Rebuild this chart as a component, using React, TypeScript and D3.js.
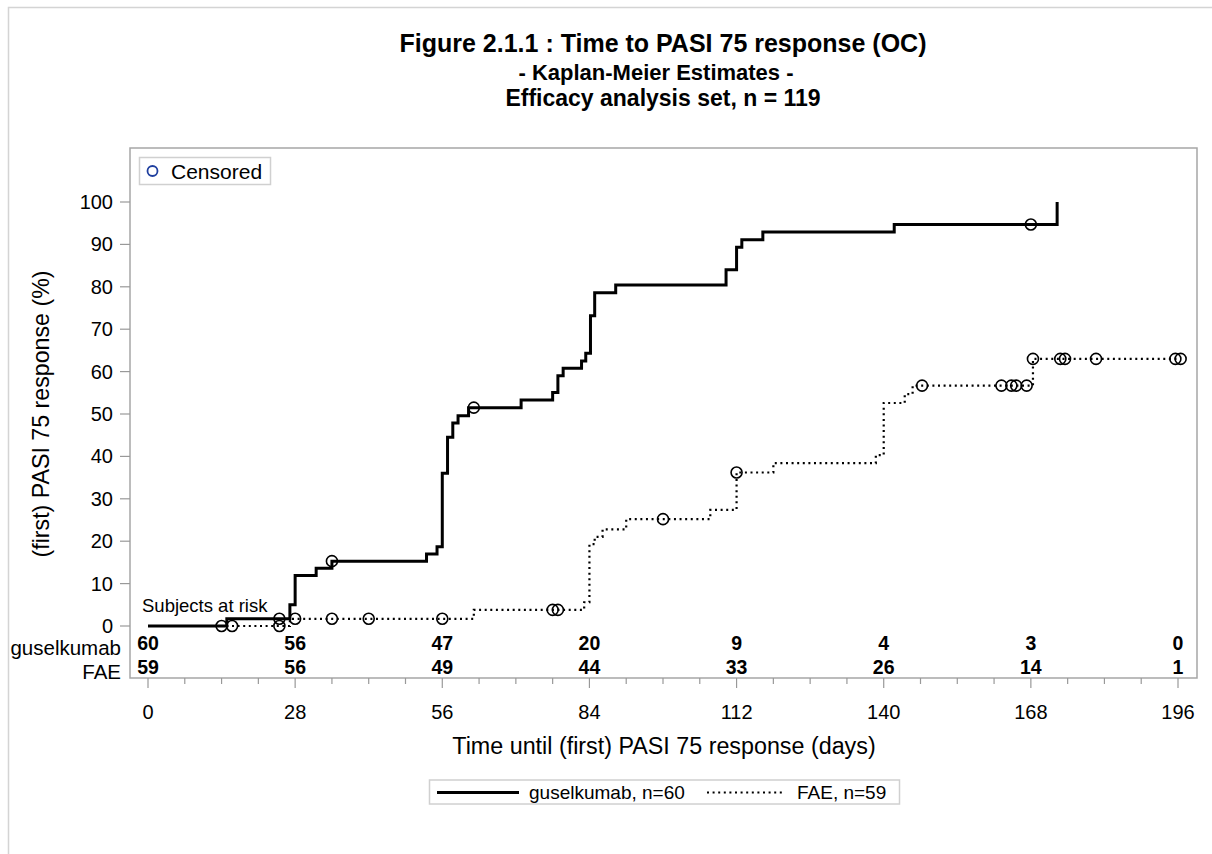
import React from "react";
import * as d3 from "d3";

// axis / table values
const xTicks = [0, 28, 56, 84, 112, 140, 168, 196];
const yTicks = [0, 10, 20, 30, 40, 50, 60, 70, 80, 90, 100];
const riskGusel = [60, 56, 47, 20, 9, 4, 3, 0];
const riskFAE = [59, 56, 49, 44, 33, 26, 14, 1];

// Kaplan-Meier steps (day, cumulative % responders)
const guselSteps = [
  { t: 0, p: 0 }, { t: 15, p: 1.7 }, { t: 27, p: 5.0 }, { t: 28, p: 11.9 },
  { t: 32, p: 13.6 }, { t: 35, p: 15.3 }, { t: 53, p: 17.0 }, { t: 55, p: 18.7 },
  { t: 56, p: 36.0 }, { t: 57, p: 44.5 }, { t: 58, p: 47.9 }, { t: 59, p: 49.6 },
  { t: 61, p: 51.5 }, { t: 71, p: 53.3 }, { t: 77, p: 55.1 }, { t: 78, p: 59.0 },
  { t: 79, p: 60.8 }, { t: 82.5, p: 62.5 }, { t: 83.3, p: 64.3 }, { t: 84.2, p: 73.2 },
  { t: 85, p: 78.6 }, { t: 89, p: 80.4 }, { t: 110, p: 84.0 }, { t: 112, p: 89.3 },
  { t: 113, p: 91.1 }, { t: 117, p: 92.9 }, { t: 142, p: 94.7 }, { t: 173, p: 94.7 },
  { t: 173, p: 100 },
];
const guselCensored = [
  { t: 25, p: 1.7 }, { t: 35, p: 15.3 }, { t: 62, p: 51.5 }, { t: 168, p: 94.7 },
];

const faeSteps = [
  { t: 0, p: 0 }, { t: 27, p: 1.7 }, { t: 62, p: 3.8 }, { t: 83, p: 5.6 },
  { t: 84, p: 19.3 }, { t: 85, p: 21.0 }, { t: 86.5, p: 22.8 }, { t: 91, p: 25.2 },
  { t: 107, p: 27.4 }, { t: 112, p: 36.2 }, { t: 119, p: 38.4 }, { t: 138.5, p: 40.3 },
  { t: 140, p: 52.6 }, { t: 144, p: 54.7 }, { t: 145.5, p: 56.7 }, { t: 168.4, p: 63.0 },
  { t: 196.5, p: 63.0 },
];
const faeCensored = [
  { t: 14, p: 0 }, { t: 16, p: 0 }, { t: 25, p: 0 }, { t: 28, p: 1.7 },
  { t: 35, p: 1.7 }, { t: 42, p: 1.7 }, { t: 56, p: 1.7 }, { t: 77, p: 3.8 },
  { t: 78, p: 3.8 }, { t: 98, p: 25.2 }, { t: 112, p: 36.2 }, { t: 147.3, p: 56.7 },
  { t: 162.4, p: 56.7 }, { t: 164.3, p: 56.7 }, { t: 165.2, p: 56.7 }, { t: 167.2, p: 56.7 },
  { t: 168.4, p: 63.0 }, { t: 173.6, p: 63.0 }, { t: 174.5, p: 63.0 }, { t: 180.4, p: 63.0 },
  { t: 195.5, p: 63.0 }, { t: 196.5, p: 63.0 },
];

const FONT = "'Liberation Sans', Arial, sans-serif";

const App = () => {
  const width = 1212;
  const height = 854;
  const frame = { left: 130, top: 148, right: 1197, bottom: 678 };

  const x = d3.scaleLinear().domain([0, 196]).range([148, 1178]);
  const y = d3.scaleLinear().domain([0, 100]).range([626, 202]);
  const minorTicks = d3.range(0, 197, 7);

  const line = d3
    .line<{ t: number; p: number }>()
    .x((d) => x(d.t))
    .y((d) => y(d.p))
    .curve(d3.curveStepAfter);

  const dotted = "2,3.6";

  return (
    <svg
      width={width}
      height={height}
      style={{ position: "absolute", left: 0, top: 0, background: "#fff" }}
      fontFamily={FONT}
    >
      <rect x={0} y={0} width={width} height={height} fill="#fff" />
      {/* outer border */}
      <rect x={8.5} y={7.5} width={1300} height={1000} fill="none" stroke="#d4d4d4" strokeWidth={1.5} />

      {/* titles */}
      <g textAnchor="middle" fontWeight="bold" fill="#000">
        <text x={663} y={52} fontSize={25}>Figure 2.1.1 : Time to PASI 75 response (OC)</text>
        <text x={656} y={80} fontSize={22}>- Kaplan-Meier Estimates -</text>
        <text x={663} y={106} fontSize={23}>Efficacy analysis set, n = 119</text>
      </g>

      {/* plot frame */}
      <rect
        x={frame.left}
        y={frame.top}
        width={frame.right - frame.left}
        height={frame.bottom - frame.top}
        fill="none"
        stroke="#a6a6a6"
        strokeWidth={1.5}
      />

      {/* y axis */}
      {yTicks.map((v) => (
        <g key={"y" + v}>
          <line x1={120} x2={frame.left} y1={y(v)} y2={y(v)} stroke="#999" strokeWidth={1.2} />
          <text x={113} y={y(v)} dy="0.35em" textAnchor="end" fontSize={20}>{v}</text>
        </g>
      ))}
      <text
        transform={`translate(49,414) rotate(-90)`}
        textAnchor="middle"
        fontSize={23.2}
      >
        (first) PASI 75 response (%)
      </text>

      {/* x axis */}
      {minorTicks.map((v) => (
        <line
          key={"m" + v}
          x1={x(v)}
          x2={x(v)}
          y1={frame.bottom}
          y2={v % 28 === 0 ? frame.bottom + 10 : frame.bottom + 6}
          stroke="#999"
          strokeWidth={1.2}
        />
      ))}
      {xTicks.map((v) => (
        <text key={"x" + v} x={x(v)} y={719} textAnchor="middle" fontSize={20}>{v}</text>
      ))}
      <text x={664} y={754} textAnchor="middle" fontSize={23.3}>
        Time until (first) PASI 75 response (days)
      </text>

      {/* curves */}
      <path d={line(faeSteps) ?? ""} fill="none" stroke="#000" strokeWidth={2.2} strokeDasharray={dotted} />
      <path d={line(guselSteps) ?? ""} fill="none" stroke="#000" strokeWidth={3} />

      {[...guselCensored, ...faeCensored].map((d, i) => (
        <circle key={"c" + i} cx={x(d.t)} cy={y(d.p)} r={5.5} fill="none" stroke="#000" strokeWidth={1.6} />
      ))}

      {/* censored legend */}
      <rect x={139.5} y={157.5} width={131} height={27} fill="#fff" stroke="#d0d0d0" strokeWidth={1.5} />
      <circle cx={152.5} cy={171} r={5} fill="none" stroke="#1f3f9f" strokeWidth={1.8} />
      <text x={171} y={178.5} fontSize={21}>Censored</text>

      {/* subjects at risk */}
      <text x={142} y={612} fontSize={18.5}>Subjects at risk</text>
      <text x={121} y={655} textAnchor="end" fontSize={20.5}>guselkumab</text>
      <text x={121} y={679} textAnchor="end" fontSize={20.5}>FAE</text>
      <g fontWeight="bold" fontSize={19.5} textAnchor="middle">
        {riskGusel.map((n, i) => (
          <text key={"rg" + i} x={x(xTicks[i])} y={649.5}>{n}</text>
        ))}
        {riskFAE.map((n, i) => (
          <text key={"rf" + i} x={x(xTicks[i])} y={674}>{n}</text>
        ))}
      </g>

      {/* bottom legend */}
      <rect x={429.5} y={780} width={470} height={24} fill="#fff" stroke="#d0d0d0" strokeWidth={1.5} />
      <line x1={437} x2={519} y1={792.5} y2={792.5} stroke="#000" strokeWidth={3} />
      <text x={529} y={799} fontSize={19}>guselkumab, n=60</text>
      <line x1={707} x2={783} y1={792.5} y2={792.5} stroke="#000" strokeWidth={2.2} strokeDasharray={dotted} />
      <text x={797} y={799} fontSize={19}>FAE, n=59</text>
    </svg>
  );
};

export default App;
